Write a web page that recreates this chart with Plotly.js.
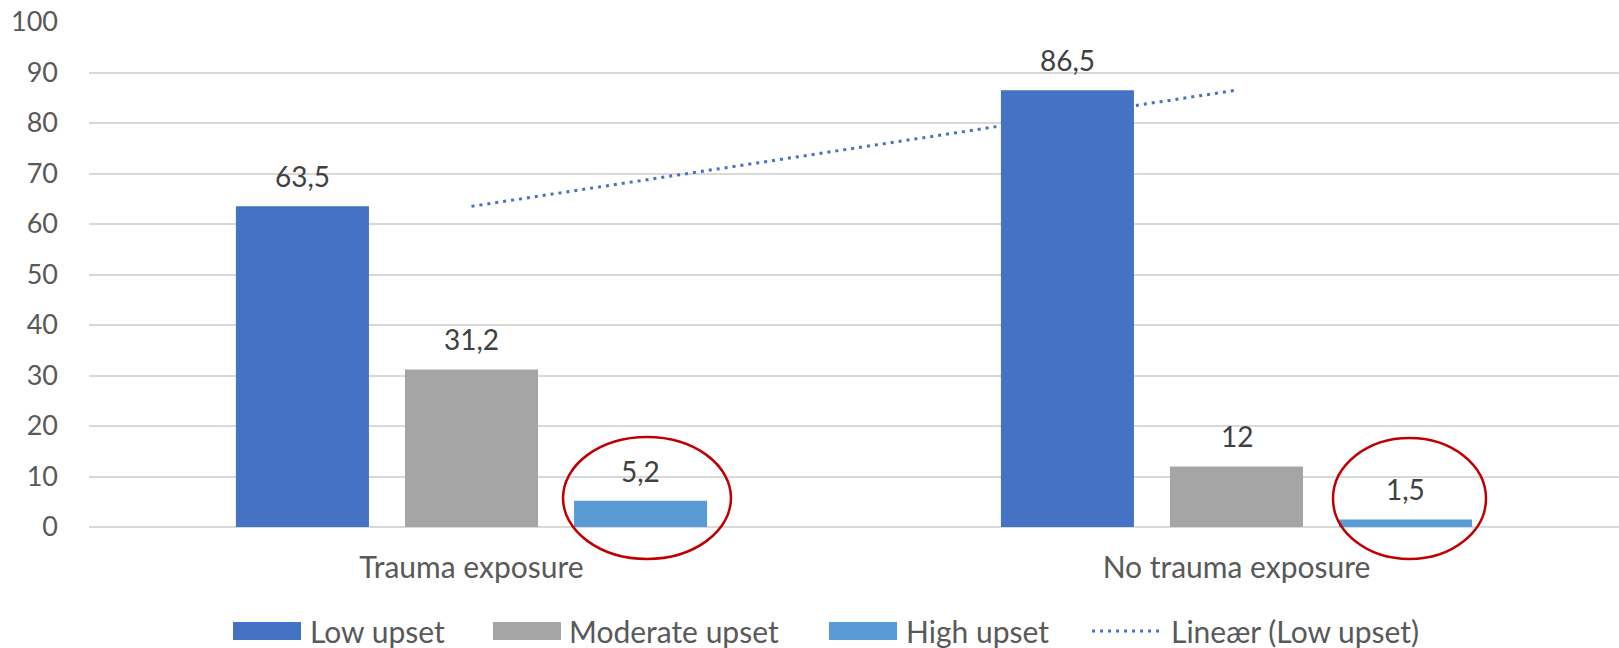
<!DOCTYPE html>
<html>
<head>
<meta charset="utf-8">
<script src="https://cdn.plot.ly/plotly-3.0.1.min.js"></script>
<style>
html, body { margin: 0; padding: 0; background: #ffffff; }
#chart { width: 1619px; height: 648px; }
</style>
</head>
<body>
<div id="chart"></div>
<script>
// ---------- data ----------
const categories = ['Trauma exposure', 'No trauma exposure'];
const seriesNames = ['Low upset', 'Moderate upset', 'High upset'];
const lowUpset = [63.5, 86.5];
const moderateUpset = [31.2, 12];
const highUpset = [5.2, 1.5];
const trendName = 'Lineær (Low upset)';
const yTickValues = [0, 10, 20, 30, 40, 50, 60, 70, 80, 90, 100];

// ---------- style ----------
const seriesColors = ['#4472C4', '#A5A5A5', '#5B9BD5'];
const trendColor = '#4472C4';
const textColor = '#595959';
const labelColor = '#404040';
const gridColor = '#D9D9D9';
const circleColor = '#C00000';
const FONT = 'Lato, "Open Sans", sans-serif';
const dotDash = '3px,5px';

const W = 1619, H = 648;
const M = { l: 89, r: 0, t: 22, b: 121 };
const plotW = W - M.l - M.r, plotH = H - M.t - M.b;
const xp = px => (px - M.l) / plotW;
const yp = py => (H - M.b - py) / plotH;

const BARGAP = 0.337, BARGROUPGAP = 0.213;

// linear trendline (least squares) of Low upset over category index 1..n
function linearTrend(vals) {
  const n = vals.length;
  const xs = vals.map((_, i) => i + 1);
  const mx = xs.reduce((a, b) => a + b, 0) / n;
  const my = vals.reduce((a, b) => a + b, 0) / n;
  let sxy = 0, sxx = 0;
  for (let i = 0; i < n; i++) { sxy += (xs[i] - mx) * (vals[i] - my); sxx += (xs[i] - mx) ** 2; }
  const slope = sxx ? sxy / sxx : 0;
  const icpt = my - slope * mx;
  return xs.map(x => icpt + slope * x);
}
const trendValues = linearTrend(lowUpset);

const fmt = v => String(v).replace('.', ',');

// ---------- traces ----------
const seriesValues = [lowUpset, moderateUpset, highUpset];
const barTraces = seriesValues.map((vals, i) => ({
  type: 'bar',
  name: seriesNames[i],
  x: categories,
  y: vals,
  xaxis: 'x2', yaxis: 'y2',
  marker: { color: seriesColors[i] },
  cliponaxis: false,
  showlegend: false,
  hoverinfo: 'x+y+name'
}));

const trendTrace = {
  type: 'scatter',
  mode: 'lines',
  name: trendName,
  x: categories,
  y: trendValues,
  xaxis: 'x', yaxis: 'y',
  line: { color: trendColor, width: 3, dash: dotDash },
  showlegend: false,
  hoverinfo: 'skip'
};

// ---------- data labels ----------
const annotations = [];
const slot = (1 - BARGAP) / seriesValues.length;
seriesValues.forEach((vals, s) => {
  vals.forEach((v, c) => {
    annotations.push({
      xref: 'x', yref: 'y',
      x: c + (s - (seriesValues.length - 1) / 2) * slot,
      y: v,
      text: fmt(v),
      showarrow: false,
      xanchor: 'center', yanchor: 'bottom',
      yshift: 11,
      font: { family: FONT, size: 28, color: labelColor }
    });
  });
});

// ---------- custom legend ----------
const shapes = [];
const legendY = 631;
const legendItems = [
  { kind: 'rect', color: seriesColors[0], s0: 233, s1: 301, tx: 308, text: seriesNames[0] },
  { kind: 'rect', color: seriesColors[1], s0: 493, s1: 561, tx: 567, text: seriesNames[1] },
  { kind: 'rect', color: seriesColors[2], s0: 829, s1: 897, tx: 904, text: seriesNames[2] },
  { kind: 'line', color: trendColor,      s0: 1092, s1: 1162, tx: 1169, text: trendName }
];
legendItems.forEach(it => {
  if (it.kind === 'rect') {
    shapes.push({ type: 'rect', xref: 'paper', yref: 'paper',
      x0: xp(it.s0), x1: xp(it.s1), y0: yp(legendY + 9), y1: yp(legendY - 9),
      fillcolor: it.color, line: { width: 0 } });
  } else {
    shapes.push({ type: 'line', xref: 'paper', yref: 'paper',
      x0: xp(it.s0), x1: xp(it.s1), y0: yp(legendY), y1: yp(legendY),
      line: { color: it.color, width: 3, dash: dotDash } });
  }
  annotations.push({ xref: 'paper', yref: 'paper', x: xp(it.tx), y: yp(legendY),
    xanchor: 'left', yanchor: 'middle', showarrow: false, text: it.text,
    font: { family: FONT, size: 30, color: textColor } });
});

// ---------- red ellipses ----------
shapes.push({ type: 'circle', xref: 'paper', yref: 'paper',
  x0: xp(563), x1: xp(731), y0: yp(559), y1: yp(437),
  line: { color: circleColor, width: 2.5 }, fillcolor: 'rgba(0,0,0,0)' });
shapes.push({ type: 'circle', xref: 'paper', yref: 'paper',
  x0: xp(1333), x1: xp(1486), y0: yp(559), y1: yp(438),
  line: { color: circleColor, width: 2.5 }, fillcolor: 'rgba(0,0,0,0)' });

// ---------- layout ----------
const xRange = [-0.5, categories.length - 0.5];
const layout = {
  width: W, height: H,
  margin: M,
  paper_bgcolor: '#ffffff',
  plot_bgcolor: '#ffffff',
  font: { family: FONT, color: textColor },
  barmode: 'group',
  bargap: BARGAP,
  bargroupgap: BARGROUPGAP,
  showlegend: false,
  xaxis: {
    type: 'category', categoryorder: 'array', categoryarray: categories,
    range: xRange, fixedrange: true,
    showgrid: false, showline: false, zeroline: false, ticks: '',
    ticklabelstandoff: 20,
    tickfont: { family: FONT, size: 30, color: textColor }
  },
  yaxis: {
    range: [0, 100], fixedrange: true,
    tickmode: 'array', tickvals: yTickValues, ticktext: yTickValues.map(String),
    showgrid: true, gridcolor: gridColor, gridwidth: 1.5,
    zeroline: true, zerolinecolor: gridColor, zerolinewidth: 2,
    showline: false, ticks: '',
    ticklabelstandoff: 30,
    tickfont: { family: FONT, size: 27, color: textColor }
  },
  xaxis2: {
    type: 'category', categoryorder: 'array', categoryarray: categories,
    range: xRange, overlaying: 'x', visible: false, fixedrange: true
  },
  yaxis2: {
    range: [0, 100], overlaying: 'y', visible: false, fixedrange: true
  },
  annotations: annotations,
  shapes: shapes
};

Plotly.newPlot('chart', [trendTrace].concat(barTraces), layout, { displayModeBar: false, staticPlot: false });
</script>
</body>
</html>
